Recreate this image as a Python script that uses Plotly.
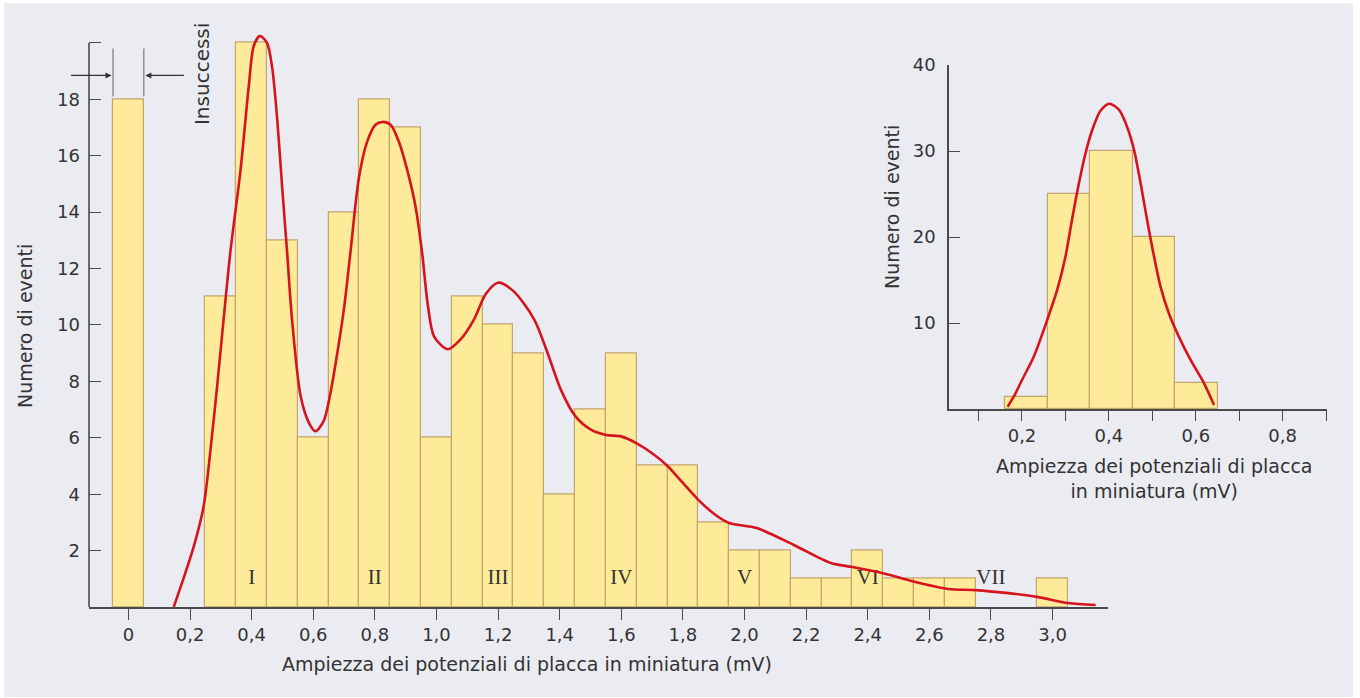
import plotly.graph_objects as go

# ---------------- data ----------------
# main histogram (bin centres in mV, counts)
main_bins = [0.0, 0.3, 0.4, 0.5, 0.6, 0.7, 0.8, 0.9, 1.0, 1.1, 1.2, 1.3, 1.4, 1.5,
             1.6, 1.7, 1.8, 1.9, 2.0, 2.1, 2.2, 2.3, 2.4, 2.5, 2.6, 2.7, 3.0]
main_counts = [18, 11, 20, 13, 6, 14, 18, 17, 6, 11, 10, 9, 4, 7,
               9, 5, 5, 3, 2, 2, 1, 1, 2, 1, 1, 1, 1]
main_bin_width = 0.1

# fitted curve (main)
curve_x = [0.147, 0.18, 0.212, 0.244, 0.271, 0.288, 0.309, 0.331, 0.364, 0.391,
           0.407, 0.427, 0.45, 0.467, 0.483, 0.499, 0.515, 0.531, 0.559, 0.586,
           0.607, 0.634, 0.656, 0.678, 0.70, 0.721, 0.748, 0.775, 0.802, 0.824,
           0.851, 0.878, 0.905, 0.932, 0.954, 0.972, 0.992, 1.036, 1.079, 1.122,
           1.16, 1.20, 1.25, 1.317, 1.361, 1.404, 1.452, 1.50, 1.55, 1.60, 1.65,
           1.70, 1.75, 1.80, 1.85, 1.905, 1.95, 2.04, 2.16, 2.28, 2.35, 2.45,
           2.55, 2.66, 2.75, 2.85, 2.95, 3.05, 3.14]
curve_y = [0.0, 1.05, 2.14, 3.56, 6.05, 7.83, 10.2, 12.6, 15.5, 18.5,
           19.9, 20.25, 20.0, 19.1, 17.3, 14.9, 12.6, 10.2, 7.48, 6.53,
           6.23, 6.6, 7.6, 9.0, 10.6, 12.6, 15.2, 16.5, 17.1, 17.2,
           17.1, 16.5, 15.5, 14.2, 12.5, 10.7, 9.6, 9.14, 9.5, 10.2,
           11.1, 11.5, 11.2, 10.2, 9.0, 7.7, 6.75, 6.3, 6.1, 6.05, 5.8,
           5.45, 5.0, 4.4, 3.8, 3.27, 2.98, 2.8, 2.2, 1.56, 1.42, 1.2,
           0.9, 0.64, 0.6, 0.5, 0.36, 0.14, 0.07]

# quantal peak labels
roman_labels = ["I", "II", "III", "IV", "V", "VI", "VII"]
roman_x = [0.4, 0.8, 1.2, 1.6, 2.0, 2.4, 2.8]
roman_y = [1.0, 1.0, 1.0, 1.0, 1.0, 1.0, 1.0]

main_xticks = [0.0, 0.2, 0.4, 0.6, 0.8, 1.0, 1.2, 1.4, 1.6, 1.8, 2.0, 2.2, 2.4, 2.6, 2.8, 3.0]
main_xticklabels = ["0", "0,2", "0,4", "0,6", "0,8", "1,0", "1,2", "1,4", "1,6", "1,8",
                    "2,0", "2,2", "2,4", "2,6", "2,8", "3,0"]
main_yticks = [2, 4, 6, 8, 10, 12, 14, 16, 18, 20]
main_yticklabels = ["2", "4", "6", "8", "10", "12", "14", "16", "18", ""]

# inset histogram (spontaneous miniature potentials)
inset_bins = [0.21, 0.308, 0.406, 0.504, 0.602]
inset_counts = [1.4, 25, 30, 20, 3]
inset_bin_width = 0.098

inset_curve_x = [0.167, 0.181, 0.2, 0.227, 0.258, 0.281, 0.300, 0.315, 0.331,
                 0.346, 0.362, 0.381, 0.401, 0.423, 0.442, 0.458, 0.473, 0.488,
                 0.504, 0.519, 0.538, 0.561, 0.588, 0.619, 0.642]
inset_curve_y = [0.27, 1.43, 3.37, 6.08, 10.35, 13.84, 17.7, 21.98, 26.24,
                 29.7, 32.5, 34.7, 35.5, 34.8, 32.8, 30.1, 26.24, 21.98,
                 17.7, 14.2, 11.13, 8.41, 5.7, 2.99, 0.47]

inset_xticks = [0.1, 0.2, 0.3, 0.4, 0.5, 0.6, 0.7, 0.8, 0.9]
inset_xticklabels = ["", "0,2", "", "0,4", "", "0,6", "", "0,8", ""]
inset_yticks = [10, 20, 30, 40]
inset_yticklabels = ["10", "20", "30", "40"]

# ---------------- style ----------------
BG = "#EBEBF2"
BAR_FILL = "#FDEB99"
BAR_EDGE = "#C4A56F"
RED = "#D5141E"
AXIS = "#4A4A4A"
TXT = "#333333"
SANS = "DejaVu Sans, Liberation Sans, Arial, sans-serif"
SERIF = "Liberation Serif, Times New Roman, serif"

# page offsets (white frame around the figure in the reference)
OX, OY = 4, 3
W, H = 1349, 694


def px_x(p):
    return (p - OX) / W


def px_y(p):
    return 1 - (p - OY) / H


fig = go.Figure()

fig.add_trace(go.Bar(
    x=main_bins, y=main_counts, width=main_bin_width,
    marker=dict(color=BAR_FILL, line=dict(color=BAR_EDGE, width=1.2)),
    xaxis="x", yaxis="y", showlegend=False,
))
fig.add_trace(go.Scatter(
    x=roman_x, y=roman_y, text=roman_labels, mode="text",
    textfont=dict(family=SERIF, size=21, color=TXT),
    xaxis="x", yaxis="y", showlegend=False, hoverinfo="skip",
))
fig.add_trace(go.Scatter(
    x=curve_x, y=curve_y, mode="lines",
    line=dict(color=RED, width=2.6, shape="spline", smoothing=0.8),
    xaxis="x", yaxis="y", showlegend=False,
))

fig.add_trace(go.Bar(
    x=inset_bins, y=inset_counts, width=inset_bin_width,
    marker=dict(color=BAR_FILL, line=dict(color=BAR_EDGE, width=1.2)),
    xaxis="x2", yaxis="y2", showlegend=False,
))
fig.add_trace(go.Scatter(
    x=inset_curve_x, y=inset_curve_y, mode="lines",
    line=dict(color=RED, width=2.6, shape="spline", smoothing=0.8),
    xaxis="x2", yaxis="y2", showlegend=False,
))

tickfont = dict(family=SANS, size=18, color=TXT)

fig.update_layout(
    width=W, height=H,
    margin=dict(l=0, r=0, t=0, b=0, autoexpand=False),
    paper_bgcolor=BG, plot_bgcolor=BG,
    bargap=0, barmode="overlay",
    xaxis=dict(
        domain=[px_x(89), px_x(1108)], range=[-0.128, 3.18],
        tickvals=main_xticks, ticktext=main_xticklabels,
        ticks="outside", ticklen=11, tickwidth=1.2, tickcolor=AXIS,
        showline=True, linecolor=AXIS, linewidth=1.6,
        showgrid=False, zeroline=False, tickfont=tickfont, anchor="y",
        automargin=False,
    ),
    yaxis=dict(
        domain=[px_y(607), px_y(34.5)], range=[0, 20.3],
        tickvals=main_yticks, ticktext=main_yticklabels,
        ticks="inside", ticklen=12, tickwidth=1.2, tickcolor=AXIS,
        showline=False,
        showgrid=False, zeroline=False, tickfont=tickfont, anchor="x",
        ticklabelstandoff=8, automargin=False,
    ),
    xaxis2=dict(
        domain=[px_x(949), px_x(1327)], range=[0.032, 0.902],
        tickvals=inset_xticks, ticktext=inset_xticklabels,
        ticks="outside", ticklen=10, tickwidth=1.2, tickcolor=AXIS,
        showline=True, linecolor=AXIS, linewidth=1.6,
        showgrid=False, zeroline=False, tickfont=tickfont, anchor="y2",
        automargin=False,
    ),
    yaxis2=dict(
        domain=[px_y(409), px_y(65)], range=[0, 40],
        tickvals=inset_yticks, ticktext=inset_yticklabels,
        ticks="inside", ticklen=11, tickwidth=1.2, tickcolor=AXIS,
        showline=True, linecolor=AXIS, linewidth=1.6,
        showgrid=False, zeroline=False, tickfont=tickfont, anchor="x2",
        ticklabelstandoff=8, automargin=False,
    ),
)

title_font = dict(family=SANS, size=19, color=TXT)
annotations = [
    dict(text="Ampiezza dei potenziali di placca in miniatura (mV)",
         xref="paper", yref="paper", x=px_x(527), y=px_y(664),
         xanchor="center", yanchor="middle", showarrow=False, font=title_font),
    dict(text="Numero di eventi", xref="paper", yref="paper",
         x=px_x(25), y=px_y(326), textangle=-90,
         xanchor="center", yanchor="middle", showarrow=False, font=title_font),
    dict(text="Ampiezza dei potenziali di placca<br>in miniatura (mV)",
         xref="paper", yref="paper", x=px_x(1154), y=px_y(478),
         xanchor="center", yanchor="middle", showarrow=False, font=title_font),
    dict(text="Numero di eventi", xref="paper", yref="paper",
         x=px_x(892), y=px_y(207), textangle=-90,
         xanchor="center", yanchor="middle", showarrow=False, font=title_font),
    dict(text="Insuccessi", xref="x", yref="y", x=0.239, y=18.9, textangle=-90,
         xanchor="center", yanchor="middle", showarrow=False,
         font=dict(family=SANS, size=20, color=TXT)),
    dict(text="", xref="x", yref="y", x=-0.055, y=18.85, ax=-42, ay=0,
         showarrow=True, arrowhead=2, arrowsize=1, arrowwidth=1.2, arrowcolor="#333333"),
    dict(text="", xref="x", yref="y", x=0.055, y=18.85, ax=40, ay=0,
         showarrow=True, arrowhead=2, arrowsize=1, arrowwidth=1.2, arrowcolor="#333333"),
]
fig.update_layout(annotations=annotations)

fig.update_layout(shapes=[
    # main y-axis line, running up to the top (unlabelled) tick
    dict(type="line", xref="x domain", yref="y", x0=0, x1=0, y0=0, y1=20,
         line=dict(color=AXIS, width=1.6)),
    # "Insuccessi" markers on the edges of the zero bin
    dict(type="line", xref="x", yref="y", x0=-0.05, x1=-0.05, y0=18.1, y1=19.8,
         line=dict(color="#7A7A7A", width=1.2)),
    dict(type="line", xref="x", yref="y", x0=0.05, x1=0.05, y0=18.1, y1=19.8,
         line=dict(color="#7A7A7A", width=1.2)),
])

fig.write_html("out.html", post_script="document.body.style.margin='3px 0 0 4px';")
